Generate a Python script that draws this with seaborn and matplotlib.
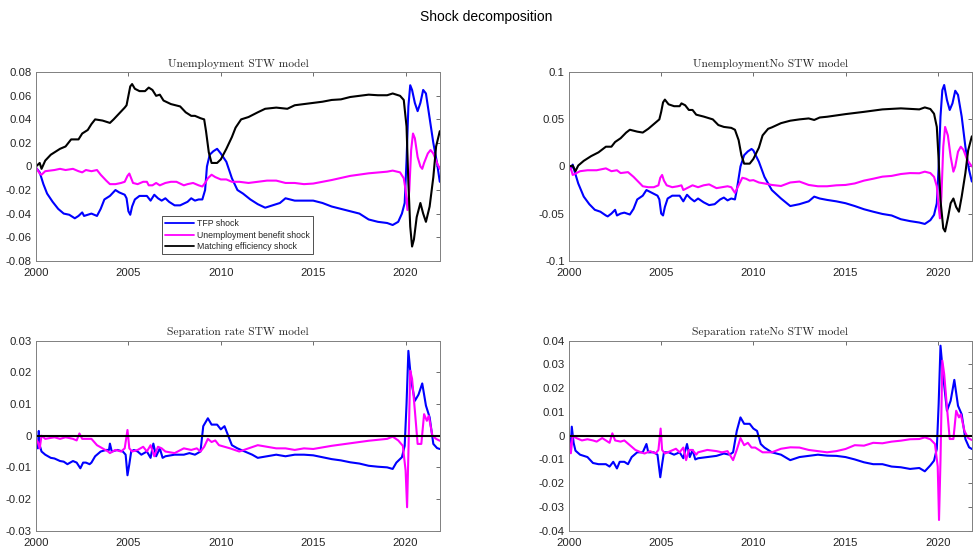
import matplotlib
matplotlib.use('Agg')
import matplotlib.pyplot as plt
from matplotlib.ticker import FuncFormatter
import pandas as pd
import seaborn as sns

# Series: (year, value)
shock_names = ['TFP shock', 'Unemployment benefit shock', 'Matching efficiency shock']
shock_colors = ['#0000FF', '#FF00FF', '#000000']

# Unemployment, STW model
u_stw_tfp = [(2000.0,-0.001),(2000.2,-0.005),(2000.4,-0.015),(2000.6,-0.023),(2000.9,-0.030),(2001.2,-0.036),
             (2001.5,-0.040),(2001.8,-0.041),(2002.1,-0.044),(2002.3,-0.042),(2002.5,-0.039),(2002.6,-0.042),
             (2002.8,-0.041),(2003.0,-0.040),(2003.3,-0.042),(2003.5,-0.036),(2003.7,-0.028),(2004.0,-0.025),
             (2004.3,-0.020),(2004.5,-0.022),(2004.8,-0.024),(2004.9,-0.027),(2005.0,-0.038),(2005.1,-0.041),
             (2005.2,-0.034),(2005.35,-0.028),(2005.6,-0.025),(2006.0,-0.025),(2006.2,-0.029),(2006.4,-0.024),
             (2006.6,-0.027),(2006.8,-0.029),(2007.0,-0.027),(2007.2,-0.030),(2007.5,-0.033),(2007.8,-0.033),
             (2008.2,-0.030),(2008.4,-0.027),(2008.6,-0.029),(2008.8,-0.028),(2009.0,-0.028),(2009.15,-0.020),
             (2009.25,0.000),(2009.4,0.010),(2009.6,0.013),(2009.8,0.015),(2010.0,0.011),(2010.3,0.004),
             (2010.6,-0.010),(2010.9,-0.020),(2011.2,-0.023),(2011.6,-0.028),(2012.0,-0.032),(2012.4,-0.035),
             (2012.8,-0.033),(2013.2,-0.031),(2013.5,-0.027),(2014.0,-0.029),(2014.5,-0.029),(2015.0,-0.029),
             (2015.5,-0.031),(2016.0,-0.034),(2016.5,-0.036),(2017.0,-0.038),(2017.5,-0.040),(2018.0,-0.045),
             (2018.5,-0.047),(2019.0,-0.048),(2019.3,-0.0497),(2019.6,-0.047),(2019.8,-0.040),(2019.95,-0.031),
             (2020.05,0.005),(2020.15,0.051),(2020.25,0.069),(2020.35,0.065),(2020.5,0.054),(2020.65,0.047),
             (2020.8,0.054),(2020.95,0.065),(2021.1,0.062),(2021.3,0.041),(2021.5,0.020),(2021.7,0.003),
             (2021.85,-0.013)]
u_stw_ben = [(2000.0,-0.001),(2000.2,-0.006),(2000.3,-0.007),(2000.5,-0.004),(2001.0,-0.003),(2001.3,-0.002),
             (2001.6,-0.003),(2002.0,-0.002),(2002.3,-0.004),(2002.5,-0.005),(2002.7,-0.003),(2003.0,-0.004),
             (2003.3,-0.003),(2003.5,-0.007),(2003.8,-0.012),(2004.0,-0.015),(2004.3,-0.015),(2004.6,-0.014),
             (2004.8,-0.013),(2004.95,-0.008),(2005.05,-0.006),(2005.15,-0.010),(2005.25,-0.014),(2005.5,-0.015),
             (2005.8,-0.013),(2006.0,-0.013),(2006.1,-0.016),(2006.3,-0.016),(2006.5,-0.014),(2006.7,-0.016),
             (2007.0,-0.014),(2007.3,-0.013),(2007.6,-0.013),(2008.0,-0.016),(2008.2,-0.015),(2008.5,-0.014),
             (2008.8,-0.016),(2009.0,-0.017),(2009.15,-0.014),(2009.3,-0.010),(2009.5,-0.007),(2009.7,-0.009),
             (2010.0,-0.011),(2010.3,-0.011),(2010.6,-0.013),(2011.0,-0.013),(2011.5,-0.014),(2012.0,-0.013),
             (2012.5,-0.012),(2013.0,-0.012),(2013.5,-0.014),(2014.0,-0.014),(2014.5,-0.015),(2015.0,-0.0145),
             (2016.0,-0.0115),(2017.0,-0.008),(2018.0,-0.0058),(2019.0,-0.0044),(2019.3,-0.0035),(2019.7,-0.005),
             (2019.9,-0.010),(2020.0,-0.020),(2020.1,-0.037),(2020.2,-0.020),(2020.3,0.014),(2020.4,0.028),
             (2020.5,0.024),(2020.65,0.008),(2020.8,0.000),(2020.9,-0.002),(2021.0,0.003),(2021.2,0.011),
             (2021.35,0.014),(2021.5,0.011),(2021.7,0.003),(2021.85,-0.002)]
u_stw_match = [(2000.0,0.0),(2000.2,0.003),(2000.3,-0.002),(2000.5,0.005),(2000.8,0.010),(2001.3,0.015),
               (2001.6,0.017),(2001.9,0.023),(2002.3,0.023),(2002.5,0.028),(2002.8,0.031),(2003.0,0.036),
               (2003.2,0.040),(2003.6,0.039),(2003.8,0.038),(2004.0,0.037),(2004.2,0.040),(2004.5,0.045),
               (2004.8,0.050),(2004.9,0.052),(2005.0,0.060),(2005.1,0.068),(2005.2,0.070),(2005.35,0.066),
               (2005.6,0.064),(2005.9,0.064),(2006.1,0.067),(2006.3,0.065),(2006.5,0.060),(2006.7,0.061),
               (2006.9,0.056),(2007.3,0.053),(2007.8,0.051),(2008.1,0.046),(2008.4,0.043),(2008.6,0.043),
               (2008.9,0.041),(2009.1,0.040),(2009.2,0.030),(2009.35,0.012),(2009.5,0.003),(2009.8,0.003),
               (2010.0,0.006),(2010.3,0.015),(2010.6,0.025),(2010.8,0.033),(2011.1,0.040),(2011.5,0.042),
               (2012.0,0.046),(2012.4,0.049),(2013.0,0.050),(2013.6,0.049),(2014.0,0.052),(2014.5,0.053),
               (2015.0,0.054),(2015.5,0.055),(2016.0,0.0565),(2016.5,0.057),(2017.0,0.059),(2017.5,0.060),
               (2018.0,0.061),(2018.5,0.0605),(2019.0,0.0605),(2019.3,0.062),(2019.7,0.060),(2019.9,0.0565),
               (2020.05,0.034),(2020.15,-0.014),(2020.25,-0.051),(2020.35,-0.068),(2020.45,-0.062),(2020.6,-0.043),
               (2020.8,-0.031),(2020.95,-0.040),(2021.1,-0.047),(2021.3,-0.034),(2021.5,-0.009),(2021.65,0.017),
               (2021.85,0.030)]

# Unemployment, no STW model
u_no_tfp = [(2000.0,0.0),(2000.1,-0.003),(2000.2,0.002),(2000.3,-0.005),(2000.5,-0.018),(2000.8,-0.032),
            (2001.1,-0.040),(2001.4,-0.046),(2001.7,-0.048),(2002.0,-0.052),(2002.1,-0.053),(2002.3,-0.050),
            (2002.5,-0.046),(2002.6,-0.052),(2002.8,-0.050),(2003.0,-0.049),(2003.3,-0.051),(2003.5,-0.045),
            (2003.7,-0.035),(2004.0,-0.031),(2004.2,-0.025),(2004.5,-0.028),(2004.8,-0.031),(2004.9,-0.035),
            (2005.0,-0.050),(2005.1,-0.052),(2005.2,-0.043),(2005.35,-0.034),(2005.6,-0.031),(2006.0,-0.031),
            (2006.2,-0.037),(2006.4,-0.030),(2006.6,-0.034),(2006.8,-0.037),(2007.0,-0.034),(2007.3,-0.038),
            (2007.6,-0.041),(2007.9,-0.040),(2008.2,-0.035),(2008.4,-0.033),(2008.6,-0.036),(2008.8,-0.034),
            (2009.0,-0.035),(2009.1,-0.025),(2009.3,0.000),(2009.5,0.012),(2009.7,0.016),(2009.9,0.0186),
            (2010.0,0.017),(2010.3,0.005),(2010.6,-0.011),(2011.0,-0.025),(2011.5,-0.034),(2012.0,-0.042),
            (2012.5,-0.040),(2013.0,-0.037),(2013.3,-0.032),(2013.6,-0.034),(2014.0,-0.0355),(2014.5,-0.037),
            (2015.0,-0.039),(2015.5,-0.042),(2016.0,-0.0454),(2016.5,-0.048),(2017.0,-0.0504),(2017.5,-0.052),
            (2018.0,-0.056),(2018.5,-0.058),(2019.0,-0.0595),(2019.3,-0.061),(2019.6,-0.057),(2019.8,-0.0514),
            (2019.95,-0.039),(2020.05,0.0),(2020.15,0.053),(2020.25,0.081),(2020.35,0.0865),(2020.5,0.0706),
            (2020.65,0.060),(2020.8,0.067),(2020.95,0.0804),(2021.1,0.076),(2021.3,0.053),(2021.5,0.021),
            (2021.7,-0.0037),(2021.85,-0.016)]
u_no_ben = [(2000.0,0.0),(2000.1,-0.002),(2000.2,-0.009),(2000.4,-0.007),(2000.6,-0.005),(2001.0,-0.004),
            (2001.5,-0.004),(2002.0,-0.002),(2002.3,-0.005),(2002.6,-0.004),(2002.8,-0.007),(2003.2,-0.006),
            (2003.5,-0.011),(2003.8,-0.017),(2004.0,-0.021),(2004.3,-0.022),(2004.6,-0.022),(2004.85,-0.020),
            (2004.95,-0.012),(2005.05,-0.009),(2005.15,-0.015),(2005.3,-0.020),(2005.6,-0.022),(2005.9,-0.021),
            (2006.1,-0.020),(2006.2,-0.025),(2006.5,-0.022),(2006.7,-0.020),(2007.0,-0.022),(2007.3,-0.020),
            (2007.6,-0.019),(2008.0,-0.023),(2008.3,-0.022),(2008.6,-0.021),(2008.8,-0.022),(2009.0,-0.028),
            (2009.2,-0.020),(2009.4,-0.012),(2009.6,-0.013),(2009.8,-0.015),(2010.0,-0.0145),(2010.3,-0.017),
            (2010.6,-0.018),(2011.0,-0.0196),(2011.5,-0.0207),(2012.0,-0.017),(2012.5,-0.016),(2013.0,-0.0196),
            (2013.5,-0.021),(2014.0,-0.021),(2014.5,-0.020),(2015.0,-0.0196),(2015.5,-0.018),(2016.0,-0.015),
            (2016.5,-0.013),(2017.0,-0.0108),(2017.5,-0.010),(2018.0,-0.008),(2018.5,-0.007),(2019.0,-0.0072),
            (2019.3,-0.0055),(2019.6,-0.007),(2019.8,-0.011),(2019.95,-0.021),(2020.05,-0.043),(2020.12,-0.055),
            (2020.2,-0.032),(2020.3,0.021),(2020.4,0.042),(2020.55,0.033),(2020.7,0.0104),(2020.85,-0.0055),
            (2020.95,0.0),(2021.1,0.0157),(2021.25,0.021),(2021.4,0.0175),(2021.6,0.007),(2021.85,0.0)]
u_no_match = [(2000.0,0.0),(2000.2,0.001),(2000.35,-0.005),(2000.5,0.001),(2000.8,0.006),(2001.2,0.011),
              (2001.6,0.015),(2002.0,0.021),(2002.3,0.021),(2002.5,0.026),(2002.8,0.030),(2003.1,0.036),
              (2003.3,0.039),(2003.7,0.037),(2004.0,0.036),(2004.3,0.040),(2004.6,0.045),(2004.9,0.050),
              (2005.0,0.058),(2005.1,0.068),(2005.2,0.071),(2005.4,0.066),(2005.7,0.064),(2006.0,0.064),
              (2006.1,0.067),(2006.3,0.065),(2006.5,0.060),(2006.7,0.060),(2006.9,0.055),(2007.3,0.053),
              (2007.8,0.050),(2008.1,0.044),(2008.4,0.042),(2008.8,0.041),(2009.0,0.039),(2009.2,0.028),
              (2009.35,0.012),(2009.5,0.003),(2009.8,0.003),(2010.0,0.008),(2010.3,0.020),(2010.5,0.033),
              (2010.8,0.040),(2011.0,0.0415),(2011.5,0.046),(2012.0,0.0486),(2012.5,0.050),(2013.0,0.051),
              (2013.3,0.0494),(2013.6,0.052),(2014.0,0.0528),(2015.0,0.0556),(2016.0,0.058),(2017.0,0.0606),
              (2018.0,0.0617),(2019.0,0.0606),(2019.3,0.0627),(2019.6,0.061),(2019.8,0.056),(2019.95,0.042),
              (2020.05,0.007),(2020.15,-0.036),(2020.3,-0.0655),(2020.4,-0.069),(2020.55,-0.055),(2020.7,-0.039),
              (2020.85,-0.034),(2021.0,-0.043),(2021.15,-0.048),(2021.3,-0.032),(2021.5,-0.007),(2021.65,0.017),
              (2021.85,0.032)]

# Separation rate, STW model
s_stw_tfp = [(2000.0,-0.002),(2000.1,-0.004),(2000.15,0.0015),(2000.2,-0.003),(2000.3,-0.005),(2000.5,-0.006),
             (2000.8,-0.007),(2001.0,-0.0072),(2001.3,-0.008),(2001.5,-0.0082),(2001.7,-0.009),(2002.0,-0.008),
             (2002.2,-0.0085),(2002.4,-0.0103),(2002.55,-0.0085),(2002.7,-0.0085),(2002.9,-0.009),(2003.0,-0.0085),
             (2003.2,-0.0065),(2003.5,-0.005),(2003.8,-0.0045),(2003.95,-0.0045),(2004.0,-0.0025),(2004.1,-0.005),
             (2004.4,-0.0045),(2004.7,-0.005),(2004.85,-0.006),(2004.95,-0.0125),(2005.05,-0.009),(2005.15,-0.005),
             (2005.3,-0.0045),(2005.5,-0.005),(2005.7,-0.006),(2006.0,-0.005),(2006.2,-0.007),(2006.35,-0.0025),
             (2006.5,-0.0065),(2006.7,-0.004),(2006.85,-0.007),(2007.0,-0.0065),(2007.5,-0.006),(2008.0,-0.006),
             (2008.3,-0.0055),(2008.6,-0.006),(2008.9,-0.005),(2009.05,0.003),(2009.3,0.0055),(2009.5,0.0035),
             (2009.8,0.0035),(2010.0,0.002),(2010.2,0.003),(2010.4,0.0),(2010.6,-0.003),(2010.9,-0.004),
             (2011.3,-0.005),(2011.7,-0.006),(2012.0,-0.007),(2012.5,-0.0065),(2013.0,-0.006),(2013.5,-0.0065),
             (2014.0,-0.006),(2014.5,-0.006),(2015.0,-0.0062),(2015.5,-0.0068),(2016.0,-0.0074),(2016.5,-0.0078),
             (2017.0,-0.0084),(2017.5,-0.0088),(2018.0,-0.0095),(2018.5,-0.0098),(2019.0,-0.010),(2019.3,-0.0105),
             (2019.5,-0.0085),(2019.8,-0.0068),(2019.95,-0.0032),(2020.05,0.010),(2020.15,0.0268),(2020.3,0.0174),
             (2020.5,0.011),(2020.7,0.013),(2020.9,0.0165),(2021.1,0.0095),(2021.3,0.0058),(2021.5,-0.0026),
             (2021.7,-0.0039),(2021.85,-0.0042)]
s_stw_ben = [(2000.0,-0.001),(2000.1,-0.002),(2000.2,-0.004),(2000.3,0.0),(2000.5,-0.001),(2001.0,-0.0005),
             (2001.3,-0.001),(2001.6,-0.0005),(2002.0,-0.001),(2002.2,-0.0015),(2002.35,0.0007),(2002.5,-0.001),
             (2003.0,-0.001),(2003.3,-0.003),(2003.6,-0.004),(2003.9,-0.005),(2004.0,-0.0055),(2004.3,-0.0045),
             (2004.6,-0.005),(2004.8,-0.004),(2004.95,0.0018),(2005.05,-0.004),(2005.2,-0.005),(2005.5,-0.0045),
             (2005.8,-0.0035),(2006.0,-0.005),(2006.2,-0.003),(2006.4,-0.0065),(2006.6,-0.0035),(2006.8,-0.004),
             (2007.0,-0.005),(2007.5,-0.0055),(2008.0,-0.004),(2008.4,-0.0045),(2008.7,-0.004),(2008.9,-0.005),
             (2009.1,-0.0035),(2009.3,-0.001),(2009.5,-0.002),(2009.7,-0.0015),(2009.9,-0.003),(2010.2,-0.0035),
             (2010.5,-0.004),(2011.0,-0.005),(2011.5,-0.004),(2012.0,-0.003),(2012.5,-0.0035),(2013.0,-0.004),
             (2013.5,-0.004),(2014.0,-0.0045),(2014.5,-0.004),(2015.0,-0.0042),(2016.0,-0.0032),(2017.0,-0.0024),
             (2018.0,-0.0016),(2019.0,-0.001),(2019.3,-0.0003),(2019.6,-0.0015),(2019.85,-0.0032),(2020.0,-0.011),
             (2020.08,-0.0226),(2020.15,-0.0058),(2020.25,0.0205),(2020.35,0.018),(2020.5,0.008),(2020.65,-0.0026),
             (2020.85,-0.0026),(2021.0,0.0068),(2021.15,0.0047),(2021.25,0.0063),(2021.45,0.0),(2021.65,-0.001),
             (2021.85,-0.0016)]
s_stw_match = [(2000.0,0.0),(2021.85,0.0)]

# Separation rate, no STW model
s_no_tfp = [(2000.0,-0.001),(2000.1,-0.004),(2000.15,0.0038),(2000.25,-0.003),(2000.35,-0.0063),(2000.6,-0.008),
            (2001.0,-0.009),(2001.3,-0.0115),(2001.6,-0.012),(2002.0,-0.012),(2002.2,-0.013),(2002.4,-0.011),
            (2002.6,-0.0138),(2002.75,-0.011),(2003.0,-0.011),(2003.2,-0.012),(2003.4,-0.009),(2003.7,-0.007),
            (2004.0,-0.007),(2004.2,-0.0035),(2004.3,-0.007),(2004.6,-0.007),(2004.8,-0.008),(2004.95,-0.0175),
            (2005.05,-0.012),(2005.15,-0.007),(2005.4,-0.007),(2005.7,-0.008),(2006.0,-0.007),(2006.2,-0.0095),
            (2006.4,-0.0035),(2006.55,-0.009),(2006.7,-0.006),(2006.85,-0.010),(2007.0,-0.0095),(2007.5,-0.009),
            (2008.0,-0.0085),(2008.4,-0.0075),(2008.7,-0.008),(2008.9,-0.007),(2009.1,0.002),(2009.3,0.0077),
            (2009.5,0.005),(2009.8,0.005),(2010.0,0.003),(2010.2,0.002),(2010.4,-0.0035),(2010.6,-0.005),
            (2011.0,-0.007),(2011.5,-0.008),(2012.0,-0.0103),(2012.5,-0.009),(2013.0,-0.0085),(2013.5,-0.008),
            (2014.0,-0.0084),(2014.5,-0.0085),(2015.0,-0.009),(2015.5,-0.010),(2016.0,-0.0112),(2016.5,-0.012),
            (2017.0,-0.012),(2017.5,-0.013),(2018.0,-0.0133),(2018.5,-0.014),(2019.0,-0.0136),(2019.3,-0.015),
            (2019.6,-0.0125),(2019.8,-0.0105),(2019.95,-0.0056),(2020.05,0.0133),(2020.15,0.0379),(2020.3,0.0249),
            (2020.5,0.0105),(2020.7,0.0147),(2020.9,0.0235),(2021.1,0.0126),(2021.3,0.009),(2021.5,-0.0014),
            (2021.7,-0.0049),(2021.85,-0.0056)]
s_no_ben = [(2000.0,-0.001),(2000.1,-0.0074),(2000.2,0.0),(2000.4,-0.001),(2000.7,-0.002),(2001.0,-0.0015),
            (2001.3,-0.002),(2001.5,-0.0025),(2001.8,-0.001),(2002.0,-0.002),(2002.2,-0.003),(2002.35,0.001),
            (2002.5,-0.002),(2002.8,-0.0025),(2003.0,-0.002),(2003.3,-0.004),(2003.6,-0.006),(2003.9,-0.007),
            (2004.1,-0.0075),(2004.4,-0.0065),(2004.7,-0.0075),(2004.85,-0.006),(2004.97,0.003),(2005.05,-0.006),
            (2005.2,-0.0075),(2005.5,-0.0065),(2005.8,-0.0055),(2006.0,-0.007),(2006.2,-0.005),(2006.35,-0.0103),
            (2006.5,-0.006),(2006.7,-0.006),(2006.9,-0.008),(2007.0,-0.007),(2007.5,-0.006),(2008.0,-0.0065),
            (2008.3,-0.007),(2008.6,-0.0065),(2008.9,-0.0103),(2009.1,-0.006),(2009.3,-0.001),(2009.5,-0.004),
            (2009.7,-0.003),(2009.9,-0.005),(2010.1,-0.005),(2010.3,-0.006),(2010.5,-0.007),(2011.0,-0.007),
            (2011.5,-0.0055),(2012.0,-0.0049),(2012.5,-0.005),(2013.0,-0.006),(2013.5,-0.0065),(2014.0,-0.007),
            (2014.5,-0.0065),(2015.0,-0.0056),(2015.5,-0.004),(2016.0,-0.0042),(2016.5,-0.003),(2017.0,-0.0032),
            (2017.5,-0.0025),(2018.0,-0.0021),(2018.5,-0.0015),(2019.0,-0.0014),(2019.3,-0.0007),(2019.6,-0.0015),
            (2019.85,-0.0035),(2020.0,-0.013),(2020.07,-0.0355),(2020.15,-0.0105),(2020.25,0.0316),(2020.35,0.026),
            (2020.5,0.012),(2020.65,-0.0014),(2020.85,-0.0014),(2021.0,0.0105),(2021.15,0.0077),(2021.25,0.009),
            (2021.45,0.002),(2021.65,-0.001),(2021.85,-0.0018)]
s_no_match = [(2000.0,0.0),(2021.85,0.0)]

panel_titles = ['Unemployment STW model', 'UnemploymentNo STW model',
                'Separation rate STW model', 'Separation rateNo STW model']
year_ticks = [2000, 2005, 2010, 2015, 2020]

sns.set_style('white')
plt.rcParams['font.family'] = ['Liberation Sans', 'DejaVu Sans']
plt.rcParams['axes.unicode_minus'] = False
plt.rcParams['xtick.direction'] = 'in'
plt.rcParams['ytick.direction'] = 'in'


def to_frame(series):
    parts = []
    for name, pts in zip(shock_names, series):
        d = pd.DataFrame(pts, columns=['date', 'value'])
        d['shock'] = name
        parts.append(d)
    return pd.concat(parts, ignore_index=True)


def draw_panel(ax, series, title, ylim, yticks, legend=False):
    df = to_frame(series)
    sns.lineplot(data=df, x='date', y='value', hue='shock', hue_order=shock_names,
                 palette=shock_colors, estimator=None, sort=False, linewidth=1.5,
                 ax=ax, legend=legend)
    ax.set_xlim(2000, 2021.85)
    ax.set_ylim(*ylim)
    ax.set_xticks(year_ticks)
    ax.set_yticks(yticks)
    ax.yaxis.set_major_formatter(FuncFormatter(lambda v, p: '%g' % round(v, 4)))
    ax.set_xlabel('')
    ax.set_ylabel('')
    ax.tick_params(axis='both', which='both', top=True, right=True, length=3, width=0.6,
                   color='#555555', labelsize=8.2, labelcolor='#262626', pad=3)
    ax.tick_params(axis='x', pad=5)
    for sp in ax.spines.values():
        sp.set_color('#808080')
        sp.set_linewidth(0.7)
    ax.set_title(title, fontfamily='cmr10', fontsize=8.3, color='#262626', pad=4)
    if legend:
        sns.move_legend(ax, 'lower left', bbox_to_anchor=(0.312, 0.036), title=None,
                        frameon=True, fancybox=False, framealpha=1, edgecolor='#333333',
                        fontsize=6.3, handlelength=3.3, borderpad=0.35, labelspacing=0.25,
                        handletextpad=0.4, borderaxespad=0)
        leg = ax.get_legend()
        leg.get_frame().set_linewidth(0.6)
        for line in leg.get_lines():
            line.set_linewidth(1.3)


fig = plt.figure(figsize=(9.73, 5.48), dpi=100)
ax1 = fig.add_axes([0.037, 0.5243, 0.415, 0.3438])
ax2 = fig.add_axes([0.5848, 0.5243, 0.414, 0.3438])
ax3 = fig.add_axes([0.037, 0.0316, 0.415, 0.3467])
ax4 = fig.add_axes([0.5848, 0.0316, 0.414, 0.3467])

draw_panel(ax1, [u_stw_tfp, u_stw_ben, u_stw_match], panel_titles[0], (-0.08, 0.08),
           [-0.08, -0.06, -0.04, -0.02, 0, 0.02, 0.04, 0.06, 0.08], legend=True)
draw_panel(ax2, [u_no_tfp, u_no_ben, u_no_match], panel_titles[1], (-0.1, 0.1),
           [-0.1, -0.05, 0, 0.05, 0.1])
draw_panel(ax3, [s_stw_tfp, s_stw_ben, s_stw_match], panel_titles[2], (-0.03, 0.03),
           [-0.03, -0.02, -0.01, 0, 0.01, 0.02, 0.03])
draw_panel(ax4, [s_no_tfp, s_no_ben, s_no_match], panel_titles[3], (-0.04, 0.04),
           [-0.04, -0.03, -0.02, -0.01, 0, 0.01, 0.02, 0.03, 0.04])

fig.text(0.5, 1 - 17 / 548, 'Shock decomposition', ha='center', va='center', fontsize=10,
         color='#000000')

fig.savefig('out.png', dpi=100)
